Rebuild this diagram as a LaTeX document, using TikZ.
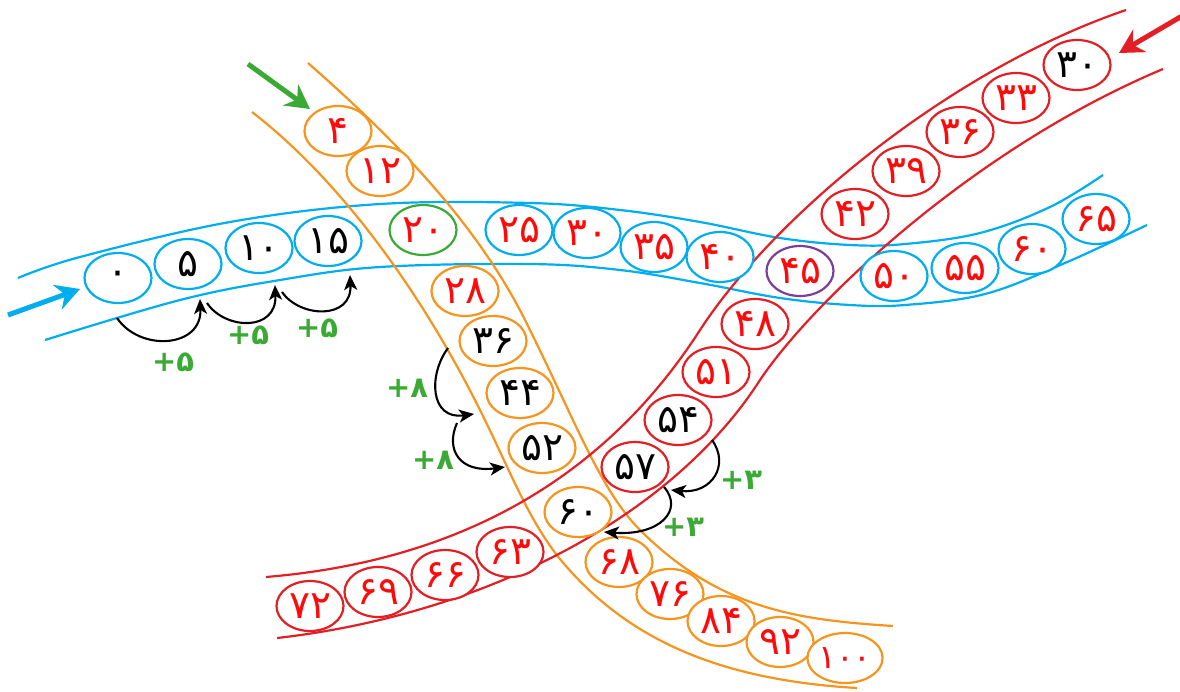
\documentclass[tikz,border=0pt]{standalone}
\usepackage{fontspec}
\newfontfamily\fa{DejaVu Sans}
\newfontfamily\fab{DejaVu Sans Bold}
\usetikzlibrary{shapes.geometric,arrows.meta}
\definecolor{cblue}{HTML}{00AEEF}
\definecolor{corange}{HTML}{F7941D}
\definecolor{cred}{HTML}{E31E24}
\definecolor{ctext}{HTML}{FF0A0A}
\definecolor{cgreen}{HTML}{3AAA35}
\definecolor{cpurple}{HTML}{7B3F98}
\tikzset{
  num/.style={ellipse, draw, fill=white, line width=2.2pt, minimum width=67pt, minimum height=50pt, inner sep=0pt, text=ctext, font=\fa\fontsize{39}{44}\selectfont},
  bnum/.style={num, draw=cblue},
  onum/.style={num, draw=corange},
  rnum/.style={num, draw=cred},
  bk/.style={text=black},
  lbl/.style={text=cgreen, font=\fab\fontsize{29}{32}\selectfont},
  jump/.style={-{Stealth[length=15pt,width=13pt,inset=4pt]}, line width=2.1pt, black},
  band/.style={line width=2.2pt},
  bigarrow/.style={line width=5pt, -{Stealth[length=24pt,width=26pt,inset=8pt]}},
}
\begin{document}
\begin{tikzpicture}[x=1pt,y=-1pt]
\useasboundingbox (0,0) rectangle (1180,691);
% bands
\draw[band,cblue] plot[smooth,tension=0.6] coordinates {(18,278) (80,257) (230,222) (380,204) (530,203) (620,210) (700,222) (780,238) (850,245) (905,244) (980,233) (1050,207) (1103,175)};
\draw[band,cblue] plot[smooth,tension=0.6] coordinates {(45,340) (180,300) (280,280) (380,267) (530,264) (620,270) (700,283) (780,298) (850,305) (905,305) (985,294) (1065,263) (1147,225)};
\draw[band,corange] (252,112) .. controls (340,180) and (420,290) .. (480,410)
  .. controls (510,470) and (530,525) .. (565,565)
  .. controls (630,640) and (720,680) .. (857,688);
\draw[band,corange] (308,63) .. controls (390,135) and (475,220) .. (525,320)
  .. controls (575,420) and (600,490) .. (640,530)
  .. controls (720,610) and (800,620) .. (893,626);
\draw[band,cred] (266,577) .. controls (470,560) and (610,470) .. (700,330)
  .. controls (775,215) and (950,70) .. (1126,10);
\draw[band,cred] (277,638) .. controls (480,615) and (670,520) .. (760,380)
  .. controls (810,305) and (970,150) .. (1163,69);
% blue band numbers
\node[bnum,bk] (b0) at (118,278) {۰};
\node[bnum,bk] (b5) at (188,264) {۵};
\node[bnum,bk] (b10) at (259,248) {۱۰};
\node[bnum,bk] (b15) at (328,241) {۱۵};
\node[num,draw=cgreen] (b20) at (423,230) {۲۰};
\node[bnum] (b25) at (519,230) {۲۵};
\node[bnum] (b30) at (587,233) {۳۰};
\node[bnum] (b35) at (654,247) {۳۵};
\node[bnum] (b40) at (720,257) {۴۰};
\node[num,draw=cpurple] (b45) at (800,271) {۴۵};
\node[bnum] (b50) at (894,276) {۵۰};
\node[bnum] (b55) at (965,268) {۵۵};
\node[bnum] (b60) at (1032,249) {۶۰};
\node[bnum] (b65) at (1096,219) {۶۵};
% orange band numbers
\node[onum] (o4) at (338,131) {۴};
\node[onum] (o12) at (380,171) {۱۲};
\node[onum] (o28) at (465,291) {۲۸};
\node[onum,bk] (o36) at (493,341) {۳۶};
\node[onum,bk] (o44) at (520,393) {۴۴};
\node[onum,bk] (o52) at (542,448) {۵۲};
\node[onum,bk] (o60) at (578,512) {۶۰};
\node[onum] (o68) at (619,562) {۶۸};
\node[onum] (o76) at (670,594) {۷۶};
\node[onum] (o84) at (721,621) {۸۴};
\node[onum] (o92) at (780,642) {۹۲};
\node[onum,font=\fa\fontsize{33}{40}\selectfont] (o100) at (845,658) {۱۰۰};
% red band numbers
\node[rnum,bk] (r30) at (1077,65) {۳۰};
\node[rnum] (r33) at (1016,98) {۳۳};
\node[rnum] (r36) at (960,132) {۳۶};
\node[rnum] (r39) at (906,171) {۳۹};
\node[rnum] (r42) at (855,214) {۴۲};
\node[rnum] (r48) at (755,324) {۴۸};
\node[rnum] (r51) at (716,372) {۵۱};
\node[rnum,bk] (r54) at (678,420) {۵۴};
\node[rnum,bk] (r57) at (635,467) {۵۷};
\node[rnum] (r63) at (510,552) {۶۳};
\node[rnum] (r66) at (445,575) {۶۶};
\node[rnum] (r69) at (378,592) {۶۹};
\node[rnum] (r72) at (310,606) {۷۲};
% entry arrows
\coordinate (ba0) at (8,315); \coordinate (ba1) at (80,289);
\draw[bigarrow,cblue] (ba0) -- (ba1);
\coordinate (ga0) at (248,64); \coordinate (ga1) at (310,109);
\draw[bigarrow,cgreen] (ga0) -- (ga1);
\coordinate (ra0) at (1182,16); \coordinate (ra1) at (1119,53);
\draw[bigarrow,cred] (ra0) -- (ra1);
% jumps +5
\coordinate (j1s) at (117,318); \coordinate (j1e) at (200,299);
\draw[jump] (j1s) .. controls (140,352) and (202,348) .. (j1e);
\coordinate (j2s) at (207,303); \coordinate (j2e) at (275,285);
\draw[jump] (j2s) .. controls (225,330) and (277,332) .. (j2e);
\coordinate (j3s) at (282,292); \coordinate (j3e) at (350,275);
\draw[jump] (j3s) .. controls (300,318) and (352,320) .. (j3e);
\node[lbl] (l1) at (173,362) {+۵};
\node[lbl] (l2) at (248,335) {+۵};
\node[lbl] (l3) at (317,328) {+۵};
% jumps +8
\coordinate (k1s) at (448,348); \coordinate (k1e) at (474,414);
\draw[jump] (k1s) .. controls (428,375) and (430,420) .. (k1e);
\coordinate (k2s) at (457,423); \coordinate (k2e) at (505,467);
\draw[jump] (k2s) .. controls (445,450) and (460,473) .. (k2e);
\node[lbl] (l4) at (407,388) {+۸};
\node[lbl] (l5) at (433,460) {+۸};
% jumps +3
\coordinate (m1s) at (712,440); \coordinate (m1e) at (671,490);
\draw[jump] (m1s) .. controls (730,465) and (712,494) .. (m1e);
\coordinate (m2s) at (664,487); \coordinate (m2e) at (604,532);
\draw[jump] (m2s) .. controls (684,510) and (660,536) .. (m2e);
\node[lbl] (l6) at (741,480) {+۳};
\node[lbl] (l7) at (683,527) {+۳};
\end{tikzpicture}
\end{document}
